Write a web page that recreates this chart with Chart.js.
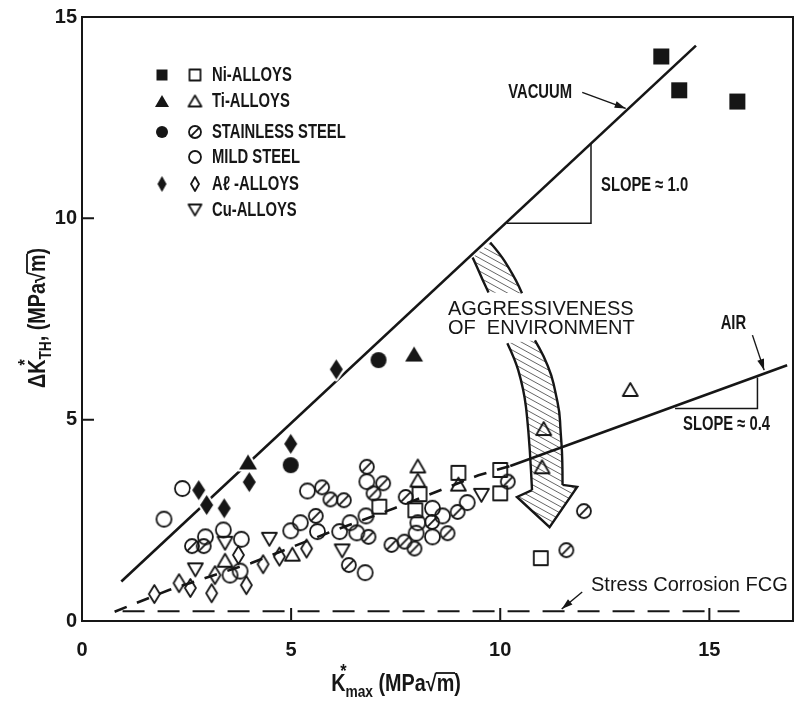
<!DOCTYPE html>
<html>
<head>
<meta charset="utf-8">
<script src="https://cdn.jsdelivr.net/npm/chart.js@4.4.1/dist/chart.umd.min.js"></script>
<style>
  html, body { margin: 0; padding: 0; background: #fff; }
  canvas { display: block; }
</style>
</head>
<body>
<canvas id="chart" width="802" height="701"></canvas>
<script>
const ink = '#161616';

// vacuum, filled symbols  [Kmax, dKth]
const niVacuum = [[13.85, 14.02], [14.28, 13.18], [15.67, 12.90]];
const tiVacuum = [[3.97, 3.95], [7.94, 6.63]];
const ssVacuum = [[4.99, 3.87], [7.09, 6.48]];
const alVacuum = [[2.79, 3.25], [2.98, 2.88], [3.40, 2.80], [4.00, 3.45], [4.99, 4.40], [6.08, 6.25]];

// air, open symbols
const niAir = [[7.11, 2.84], [8.07, 3.15], [7.97, 2.75], [9.00, 3.68], [10.00, 3.75], [10.00, 3.17], [10.97, 1.56]];
const tiAir = [[3.42, 1.51], [5.03, 1.66], [8.03, 3.85], [8.03, 3.50], [9.00, 3.40], [11.04, 4.78], [11.00, 3.83], [13.11, 5.75]];
const ssAir = [[2.63, 1.86], [2.91, 1.86], [5.59, 2.61], [5.74, 3.32], [5.94, 3.02], [6.26, 3.00], [6.85, 2.09],
  [6.38, 1.39], [6.81, 3.83], [7.20, 3.42], [6.97, 3.17], [7.74, 3.08], [7.40, 1.89], [7.71, 1.97], [7.95, 1.80],
  [8.37, 2.46], [8.74, 2.18], [8.98, 2.71], [10.18, 3.46], [12.00, 2.73], [11.58, 1.76]];
const mildAir = [[1.96, 2.53], [2.40, 3.29], [3.38, 2.26], [2.95, 2.09], [3.81, 2.03], [3.54, 1.14], [3.78, 1.24],
  [4.99, 2.24], [5.22, 2.44], [5.63, 2.22], [5.39, 3.23], [6.16, 2.22], [6.41, 2.44], [6.57, 2.19], [6.79, 2.61],
  [6.81, 3.46], [6.77, 1.20], [8.03, 2.44], [7.99, 2.18], [8.38, 2.80], [8.62, 2.61], [8.38, 2.09], [9.21, 2.94]];
const alAir = [[1.73, 0.67], [2.32, 0.94], [2.59, 0.82], [3.18, 1.14], [3.10, 0.69], [3.74, 1.64], [3.93, 0.89],
  [4.33, 1.41], [4.72, 1.60], [5.37, 1.80]];
const cuAir = [[2.71, 1.27], [3.42, 1.93], [4.48, 2.03], [6.22, 1.74], [9.55, 3.12]];

// trend lines and slope triangles
const vacuumLine = [[0.94, 0.98], [14.68, 14.29]];
const airLineDashed = [[0.78, 0.23], [2.08, 0.77], [4.05, 1.44], [5.86, 2.18], [7.47, 2.80], [9.48, 3.62], [10.24, 3.85]];
const airLineSolid = [[10.24, 3.85], [16.86, 6.35]];
const stressLine = [[0.97, 0.24], [15.74, 0.24]];
const vacuumSlope = [[10.16, 9.88], [12.17, 9.88], [12.17, 11.85]];
const airSlope = [[14.18, 5.28], [16.15, 5.28], [16.15, 6.05]];

const xTicks = [0, 5, 10, 15];
const yTicks = [0, 5, 10, 15];

// hatched "aggressiveness" arrow, in data units
const bandTop = {
  left: [[9.34, 9.03], [9.46, 8.76], [9.57, 8.49], [9.72, 8.16]],
  right: [[9.76, 9.40], [10.00, 9.11], [10.21, 8.76], [10.38, 8.46], [10.52, 8.14]]
};
const bandLow = {
  left: [[10.17, 6.90], [10.36, 6.48], [10.50, 5.98], [10.59, 5.53], [10.64, 5.11], [10.71, 4.24], [10.76, 3.25]],
  head: [[10.76, 3.25], [10.40, 3.08], [11.18, 2.33], [11.84, 3.33], [11.49, 3.38]],
  right: [[11.49, 3.38], [11.49, 4.05], [11.44, 4.74], [11.42, 5.19], [11.32, 5.68], [11.23, 6.10], [11.04, 6.58], [10.83, 6.97]]
};

const notes = [
  ['VACUUM', 10.19, 13.13, true],
  ['SLOPE \u2248 1.0', 12.41, 10.82, true],
  ['SLOPE \u2248 0.4', 14.37, 4.89, true],
  ['AIR', 15.27, 7.39, true],
  ['AGGRESSIVENESS', 8.75, 7.74, false],
  ['OF  ENVIRONMENT', 8.75, 7.27, false],
  ['Stress Corrosion FCG', 12.17, 0.89, false]
];
const pointers = [
  [11.96, 13.13, 13.00, 12.73],
  [16.03, 7.10, 16.31, 6.23],
  [11.96, 0.72, 11.47, 0.30]
];

const BOLD = 'bold 20px "Liberation Sans", Arial, sans-serif';
const REG = '20px "Liberation Sans", Arial, sans-serif';
const SX = 0.74; // squeeze bold text to look condensed
const TITLE_SX = 0.86;

function makeMarker(shape, filled, w, h) {
  const pad = 3;
  const c = document.createElement('canvas');
  c.width = Math.ceil(w + pad * 2);
  c.height = Math.ceil(h + pad * 2);
  const g = c.getContext('2d');
  const cx = c.width / 2, cy = c.height / 2;
  g.beginPath();
  if (shape === 'square') g.rect(cx - w / 2, cy - h / 2, w, h);
  else if (shape === 'circle' || shape === 'slashed') g.arc(cx, cy, w / 2, 0, Math.PI * 2);
  else if (shape === 'triangle') {
    g.moveTo(cx, cy - h / 2); g.lineTo(cx + w / 2, cy + h / 2); g.lineTo(cx - w / 2, cy + h / 2); g.closePath();
  } else if (shape === 'triangleDown') {
    g.moveTo(cx - w / 2, cy - h / 2); g.lineTo(cx + w / 2, cy - h / 2); g.lineTo(cx, cy + h / 2); g.closePath();
  } else if (shape === 'diamond') {
    g.moveTo(cx, cy - h / 2); g.lineTo(cx + w / 2, cy); g.lineTo(cx, cy + h / 2); g.lineTo(cx - w / 2, cy); g.closePath();
  }
  g.lineJoin = 'round';
  if (filled) {
    g.lineWidth = 4; g.strokeStyle = '#fff'; g.stroke();
    g.fillStyle = ink; g.fill();
  } else {
    g.lineWidth = 1.8; g.strokeStyle = ink; g.stroke();
    if (shape === 'slashed') {
      const r = w / 2 * 0.72;
      g.beginPath(); g.moveTo(cx - r, cy + r); g.lineTo(cx + r, cy - r); g.stroke();
    }
  }
  return c;
}

const markers = {
  niV: makeMarker('square', true, 16, 16),
  tiV: makeMarker('triangle', true, 18, 15),
  ssV: makeMarker('circle', true, 16, 16),
  alV: makeMarker('diamond', true, 13, 20),
  niA: makeMarker('square', false, 14, 14),
  tiA: makeMarker('triangle', false, 15, 13),
  ssA: makeMarker('slashed', false, 14, 14),
  mildA: makeMarker('circle', false, 15, 15),
  alA: makeMarker('diamond', false, 11, 18),
  cuA: makeMarker('triangleDown', false, 15, 13)
};
const legendRows = [
  [makeMarker('square', true, 11, 11), makeMarker('square', false, 11, 11), 'Ni-ALLOYS'],
  [makeMarker('triangle', true, 14, 12), makeMarker('triangle', false, 13, 11), 'Ti-ALLOYS'],
  [makeMarker('circle', true, 12, 12), makeMarker('slashed', false, 12, 12), 'STAINLESS STEEL'],
  [null, makeMarker('circle', false, 12, 12), 'MILD STEEL'],
  [makeMarker('diamond', true, 9, 16), makeMarker('diamond', false, 8, 14), 'A\u2113 -ALLOYS'],
  [null, makeMarker('triangleDown', false, 13, 11), 'Cu-ALLOYS']
];
const legendY = [58, 84, 115, 140, 167, 193];

const pts = arr => arr.map(([x, y]) => ({ x, y }));
const markSet = (arr, style) => ({ data: pts(arr), pointStyle: style, pointRadius: 8, showLine: false });
const lineSet = (arr, width, dash) => ({
  data: pts(arr), showLine: true, borderColor: ink, borderWidth: width, borderDash: dash || [],
  pointRadius: 0, fill: false, tension: 0
});

function drawText(ctx, text, x, y, font, sx) {
  ctx.save();
  ctx.font = font;
  ctx.textBaseline = 'middle';
  ctx.textAlign = 'left';
  ctx.fillStyle = ink;
  ctx.translate(x, y);
  ctx.scale(sx, 1);
  ctx.fillText(text, 0, 0);
  ctx.restore();
}

// parts: [text, size, dy, advance, overline, dx]
function drawRich(ctx, parts, cx, cy) {
  ctx.save();
  ctx.textBaseline = 'alphabetic';
  ctx.fillStyle = ink;
  ctx.strokeStyle = ink;
  let w = 0;
  for (const p of parts) {
    ctx.font = 'bold ' + p[1] + 'px "Liberation Sans", Arial, sans-serif';
    if (p[3] !== false) w += ctx.measureText(p[0]).width;
  }
  ctx.translate(cx - w * TITLE_SX / 2, cy + 8);
  ctx.scale(TITLE_SX, 1);
  let x = 0;
  for (const p of parts) {
    ctx.font = 'bold ' + p[1] + 'px "Liberation Sans", Arial, sans-serif';
    const pw = ctx.measureText(p[0]).width;
    ctx.fillText(p[0], x + (p[5] || 0), p[2]);
    if (p[4]) {
      ctx.lineWidth = 1.8;
      ctx.beginPath(); ctx.moveTo(x - 1, -18); ctx.lineTo(x + pw + 1, -18); ctx.stroke();
    }
    if (p[3] !== false) x += pw;
  }
  ctx.restore();
}

function smoothStroke(ctx, p) {
  ctx.moveTo(p[0][0], p[0][1]);
  for (let i = 1; i < p.length - 1; i++) {
    const mx = (p[i][0] + p[i + 1][0]) / 2, my = (p[i][1] + p[i + 1][1]) / 2;
    ctx.quadraticCurveTo(p[i][0], p[i][1], mx, my);
  }
  ctx.lineTo(p[p.length - 1][0], p[p.length - 1][1]);
}

function hatch(ctx, outline) {
  ctx.save();
  ctx.beginPath();
  outline.forEach((q, i) => i ? ctx.lineTo(q[0], q[1]) : ctx.moveTo(q[0], q[1]));
  ctx.closePath();
  ctx.clip();
  const xs = outline.map(q => q[0]), ys = outline.map(q => q[1]);
  const x0 = Math.min(...xs), x1 = Math.max(...xs), y0 = Math.min(...ys), y1 = Math.max(...ys);
  const k = 0.55;
  ctx.strokeStyle = '#555';
  ctx.lineWidth = 0.9;
  ctx.beginPath();
  for (let c = y0 - (x1 - x0) * k; c < y1; c += 6.5) {
    ctx.moveTo(x0, c);
    ctx.lineTo(x1, c + (x1 - x0) * k);
  }
  ctx.stroke();
  ctx.restore();
}

const decor = {
  id: 'decor',
  beforeDatasetsDraw(chart) {
    const { ctx, chartArea: a, scales: { x, y } } = chart;
    const px = arr => arr.map(([u, v]) => [x.getPixelForValue(u), y.getPixelForValue(v)]);

    // hatched arrow
    const tl = px(bandTop.left), tr = px(bandTop.right);
    hatch(ctx, tl.concat(tr.slice().reverse()));
    const ll = px(bandLow.left), lh = px(bandLow.head), lr = px(bandLow.right);
    hatch(ctx, ll.concat(lh, lr));
    ctx.save();
    ctx.strokeStyle = ink;
    ctx.lineWidth = 2.4;
    ctx.beginPath();
    smoothStroke(ctx, tl); smoothStroke(ctx, tr);
    smoothStroke(ctx, ll); smoothStroke(ctx, lr);
    lh.forEach((q, i) => i ? ctx.lineTo(q[0], q[1]) : ctx.moveTo(q[0], q[1]));
    ctx.stroke();
    ctx.restore();

    // frame and inside ticks
    ctx.save();
    ctx.strokeStyle = ink;
    ctx.lineWidth = 2;
    ctx.strokeRect(a.left, a.top, a.right - a.left, a.bottom - a.top);
    ctx.beginPath();
    xTicks.slice(1).forEach(v => { const p = x.getPixelForValue(v); ctx.moveTo(p, a.bottom); ctx.lineTo(p, a.bottom - 13); });
    yTicks.slice(1, 3).forEach(v => { const p = y.getPixelForValue(v); ctx.moveTo(a.left, p); ctx.lineTo(a.left + 12, p); });
    ctx.stroke();
    ctx.restore();
  },
  afterDatasetsDraw(chart) {
    const { ctx, chartArea: a, scales: { x, y } } = chart;

    notes.forEach(([t, u, v, bold]) => {
      drawText(ctx, t, x.getPixelForValue(u), y.getPixelForValue(v), bold ? BOLD : REG, bold ? SX : 1);
    });

    ctx.save();
    ctx.strokeStyle = ink;
    ctx.fillStyle = ink;
    ctx.lineWidth = 1.4;
    pointers.forEach(([u1, v1, u2, v2]) => {
      const x1 = x.getPixelForValue(u1), y1 = y.getPixelForValue(v1);
      const x2 = x.getPixelForValue(u2), y2 = y.getPixelForValue(v2);
      const ang = Math.atan2(y2 - y1, x2 - x1);
      ctx.beginPath(); ctx.moveTo(x1, y1); ctx.lineTo(x2, y2); ctx.stroke();
      ctx.beginPath();
      ctx.moveTo(x2, y2);
      ctx.lineTo(x2 - 11 * Math.cos(ang) + 3.5 * Math.sin(ang), y2 - 11 * Math.sin(ang) - 3.5 * Math.cos(ang));
      ctx.lineTo(x2 - 11 * Math.cos(ang) - 3.5 * Math.sin(ang), y2 - 11 * Math.sin(ang) + 3.5 * Math.cos(ang));
      ctx.closePath(); ctx.fill();
    });
    ctx.restore();

    // legend
    legendRows.forEach(([filled, open, label], i) => {
      const cy = a.top + legendY[i];
      if (filled) ctx.drawImage(filled, a.left + 80 - filled.width / 2, cy - filled.height / 2);
      ctx.drawImage(open, a.left + 113 - open.width / 2, cy - open.height / 2);
      drawText(ctx, label, a.left + 130, cy, BOLD, SX);
    });
  },
  afterDraw(chart) {
    const { ctx } = chart;
    drawRich(ctx, [['K', 23, 0], ['*', 19, -14, false, false, -6], ['max', 16, 6], [' (MPa', 23, 0],
      ['\u221a', 23, 0], ['m', 23, 0, true, true], [')', 23, 0]], 396, 683);
    ctx.save();
    ctx.translate(37, 318);
    ctx.rotate(-Math.PI / 2);
    drawRich(ctx, [['\u0394K', 23, 0], ['*', 19, -14, false, false, -7], ['TH', 16, 6], [', (MPa', 23, 0],
      ['\u221a', 23, 0], ['m', 23, 0, true, true], [')', 23, 0]], 0, 0);
    ctx.restore();
  }
};

new Chart(document.getElementById('chart'), {
  type: 'scatter',
  data: {
    datasets: [
      markSet(niVacuum, markers.niV),
      markSet(tiVacuum, markers.tiV),
      markSet(ssVacuum, markers.ssV),
      markSet(alVacuum, markers.alV),
      markSet(niAir, markers.niA),
      markSet(tiAir, markers.tiA),
      markSet(ssAir, markers.ssA),
      markSet(mildAir, markers.mildA),
      markSet(alAir, markers.alA),
      markSet(cuAir, markers.cuA),
      lineSet(vacuumLine, 2.6),
      lineSet(airLineDashed, 2.6, [13, 11]),
      lineSet(airLineSolid, 2.6),
      lineSet(stressLine, 2, [22, 13]),
      lineSet(vacuumSlope, 1.5),
      lineSet(airSlope, 1.5)
    ]
  },
  options: {
    responsive: false,
    animation: false,
    events: [],
    layout: { padding: { top: 16, right: 1, left: 0, bottom: 0 } },
    plugins: { legend: { display: false }, tooltip: { enabled: false } },
    scales: {
      x: {
        type: 'linear', min: 0, max: 17,
        afterBuildTicks: s => { s.ticks = xTicks.map(v => ({ value: v })); },
        afterFit: s => { s.height = 80; },
        grid: { display: false, drawTicks: false },
        border: { display: false },
        ticks: { padding: 17, color: ink, font: { family: '"Liberation Sans", Arial', size: 20, weight: 'bold' } }
      },
      y: {
        type: 'linear', min: 0, max: 15,
        afterBuildTicks: s => { s.ticks = yTicks.map(v => ({ value: v })); },
        afterFit: s => { s.width = 82; },
        grid: { display: false, drawTicks: false },
        border: { display: false },
        ticks: { padding: 5, color: ink, font: { family: '"Liberation Sans", Arial', size: 20, weight: 'bold' } }
      }
    }
  },
  plugins: [decor]
});
</script>
</body>
</html>
